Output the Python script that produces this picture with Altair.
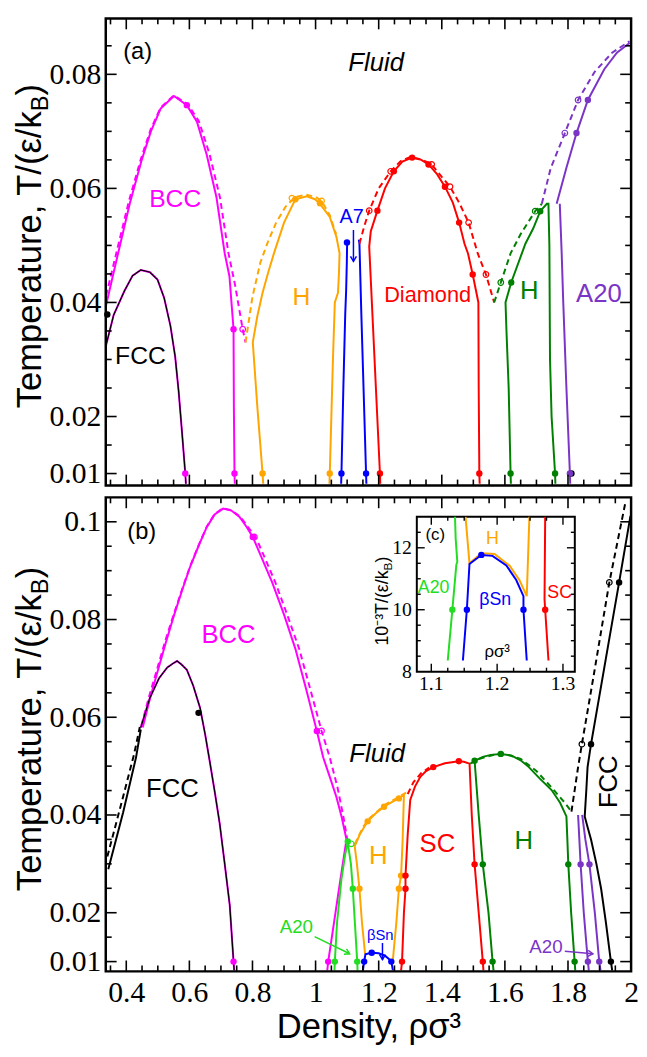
import math
import altair as alt
import pandas as pd

# ===================== values =====================
# ---------- panel (a) ----------
A_BCC_X = [0.336, 0.374, 0.411, 0.448, 0.478, 0.509, 0.551, 0.592, 0.624, 0.655, 0.686, 0.712, 0.727, 0.740, 0.741, 0.743, 0.744]
A_BCC_T = [0.0395, 0.0486, 0.0573, 0.0648, 0.0700, 0.0740, 0.0762, 0.0746, 0.0717, 0.0659, 0.0584, 0.0486, 0.0446, 0.0353, 0.0220, 0.0100, 0.0082]
A_BCC_DX = [0.336, 0.370, 0.408, 0.446, 0.477, 0.509, 0.551, 0.594, 0.630, 0.664, 0.697, 0.724, 0.745, 0.769, 0.778]
A_BCC_DT = [0.0412, 0.0490, 0.0577, 0.0651, 0.0703, 0.0742, 0.0763, 0.0748, 0.0718, 0.0660, 0.0584, 0.0486, 0.0430, 0.0353, 0.0330]
A_FCC_X = [0.336, 0.360, 0.394, 0.420, 0.446, 0.475, 0.499, 0.520, 0.540, 0.555, 0.566, 0.577, 0.587, 0.589]
A_FCC_T = [0.0325, 0.0378, 0.0420, 0.0447, 0.0457, 0.0453, 0.0440, 0.0408, 0.0359, 0.0305, 0.0244, 0.0170, 0.0100, 0.0082]
A_H_X = [1.044, 1.045, 1.055, 1.061, 1.071, 1.074, 1.076, 1.066, 1.045, 1.014, 0.998, 0.972, 0.936, 0.900, 0.868, 0.850, 0.832, 0.815, 0.801, 0.815, 0.832, 0.834]
A_H_T = [0.0082, 0.0100, 0.0300, 0.0400, 0.0417, 0.0450, 0.0486, 0.0515, 0.0550, 0.0573, 0.0581, 0.0586, 0.0581, 0.0540, 0.0486, 0.0453, 0.0417, 0.0375, 0.0330, 0.0220, 0.0100, 0.0082]
A_H_DX = [0.778, 0.800, 0.825, 0.848, 0.875, 0.905, 0.935, 0.970, 1.000, 1.019, 1.045, 1.065]
A_H_DT = [0.0330, 0.0410, 0.0470, 0.0505, 0.0540, 0.0568, 0.0585, 0.0589, 0.0585, 0.0578, 0.0553, 0.0520]
A_A7L_X = [1.081, 1.082, 1.088, 1.094, 1.097, 1.099, 1.100]
A_A7L_T = [0.0082, 0.0100, 0.0250, 0.0380, 0.0423, 0.0470, 0.0505]
A_A7R_X = [1.137, 1.139, 1.145, 1.152, 1.160, 1.161]
A_A7R_T = [0.0510, 0.0503, 0.0380, 0.0250, 0.0100, 0.0082]
A_DIA_X = [1.205, 1.204, 1.170, 1.175, 1.196, 1.220, 1.248, 1.275, 1.306, 1.335, 1.358, 1.385, 1.410, 1.435, 1.455, 1.472, 1.483, 1.498, 1.516, 1.517, 1.519, 1.520]
A_DIA_T = [0.0082, 0.0100, 0.0498, 0.0525, 0.0561, 0.0600, 0.0630, 0.0647, 0.0654, 0.0650, 0.0642, 0.0625, 0.0603, 0.0575, 0.0540, 0.0503, 0.0486, 0.0449, 0.0400, 0.0250, 0.0100, 0.0082]
A_DIA_DX = [1.139, 1.155, 1.170, 1.200, 1.238, 1.270, 1.300, 1.335, 1.368, 1.400, 1.426, 1.455, 1.485, 1.514, 1.540, 1.566]
A_DIA_DT = [0.0503, 0.0535, 0.0561, 0.0600, 0.0630, 0.0648, 0.0655, 0.0651, 0.0642, 0.0620, 0.0603, 0.0575, 0.0540, 0.0486, 0.0449, 0.0400]
A_HG_X = [1.619, 1.618, 1.612, 1.605, 1.602, 1.620, 1.665, 1.690, 1.712, 1.733, 1.738, 1.741, 1.743, 1.748, 1.759, 1.760]
A_HG_T = [0.0082, 0.0100, 0.0250, 0.0350, 0.0400, 0.0435, 0.0503, 0.0530, 0.0560, 0.0573, 0.0573, 0.0500, 0.0300, 0.0200, 0.0100, 0.0082]
A_HG_DX = [1.566, 1.587, 1.618, 1.650, 1.696, 1.717]
A_HG_DT = [0.0400, 0.0435, 0.0486, 0.0520, 0.0560, 0.0573]
A_A20_X = [1.764, 1.795, 1.827, 1.863, 1.915, 1.955, 1.995]
A_A20_T = [0.0573, 0.0636, 0.0697, 0.0755, 0.0809, 0.0838, 0.0855]
A_A20V_X = [1.774, 1.780, 1.785, 1.795, 1.806, 1.807]
A_A20V_T = [0.0573, 0.0486, 0.0400, 0.0250, 0.0100, 0.0082]
A_A20_DX = [1.717, 1.745, 1.790, 1.832, 1.884, 1.940, 1.995]
A_A20_DT = [0.0573, 0.0635, 0.0697, 0.0755, 0.0804, 0.0838, 0.0858]

A_DOT_X = [0.592, 0.740, 0.743, 0.587, 0.340, 1.811, 0.936, 1.014, 0.832, 1.045, 1.0995, 1.082, 1.160,
           1.196, 1.248, 1.306, 1.358, 1.410, 1.455, 1.498, 1.204, 1.519, 1.620, 1.712, 1.618, 1.759,
           1.827, 1.863, 1.806]
A_DOT_T = [0.0746, 0.0353, 0.0100, 0.0100, 0.0379, 0.0100, 0.0581, 0.0574, 0.0100, 0.0100, 0.0505, 0.0100, 0.0100,
           0.0561, 0.0630, 0.0654, 0.0642, 0.0603, 0.0540, 0.0449, 0.0100, 0.0100, 0.0435, 0.0560, 0.0100, 0.0100,
           0.0697, 0.0755, 0.0100]
A_DOT_P = ["bcc", "bcc", "bcc", "bcc", "k", "k", "h", "h", "h", "h", "a7", "a7", "a7",
           "dia", "dia", "dia", "dia", "dia", "dia", "dia", "dia", "dia", "hg", "hg", "hg", "hg",
           "a20", "a20", "a20"]
A_OPEN_X = [0.769, 0.925, 1.019, 1.170, 1.238, 1.368, 1.426, 1.485, 1.540, 1.587, 1.696, 1.790, 1.832]
A_OPEN_T = [0.0353, 0.0583, 0.0578, 0.0561, 0.0630, 0.0642, 0.0603, 0.0540, 0.0449, 0.0435, 0.0560, 0.0697, 0.0755]
A_OPEN_P = ["bcc", "h", "h", "dia", "dia", "dia", "dia", "dia", "dia", "hg", "hg", "a20", "a20"]

A_LAB_TEXT = ["(a)", "BCC", "FCC", "H", "A7", "Diamond", "H", "A20"]
A_LAB_X = [0.436, 0.555, 0.445, 0.955, 1.114, 1.355, 1.677, 1.898]
A_LAB_T = [0.0839, 0.0581, 0.0306, 0.0410, 0.0550, 0.0413, 0.0420, 0.0415]
A_LAB_P = ["k", "bcc", "k", "h", "a7", "dia", "hg", "a20"]
A_FLUID_X = [1.192]
A_FLUID_T = [0.0819]
A_ARR_X0 = [1.120]
A_ARR_T0 = [0.0527]
A_ARR_X1 = [1.120]
A_ARR_T1 = [0.0472]
A_ARR_P = ["a7"]

# ---------- panel (b) ----------
B_BCC_X = [0.452, 0.475, 0.499, 0.525, 0.551, 0.577, 0.603, 0.630, 0.655, 0.680, 0.707, 0.733, 0.759, 0.781, 0.801,
           0.830, 0.863, 0.900, 0.936, 0.970, 1.004, 1.024, 1.045, 1.066, 1.083, 1.098, 1.085, 1.071, 1.055, 1.040, 1.037]
B_BCC_T = [0.0579, 0.0638, 0.0693, 0.0752, 0.0808, 0.0860, 0.0909, 0.0952, 0.0989, 0.1015, 0.1027, 0.1023, 0.1010, 0.0990, 0.0969,
           0.0925, 0.0875, 0.0810, 0.0740, 0.0658, 0.0572, 0.0518, 0.0478, 0.0437, 0.0395, 0.0350, 0.0295, 0.0235, 0.0165, 0.0100, 0.0082]
B_BCC_DX = [0.448, 0.472, 0.497, 0.523, 0.550, 0.577, 0.603, 0.630, 0.655, 0.680, 0.707, 0.735, 0.762, 0.786, 0.810,
            0.840, 0.873, 0.910, 0.948, 0.983, 1.019, 1.045, 1.070, 1.090, 1.102]
B_BCC_DT = [0.0583, 0.0642, 0.0697, 0.0755, 0.0810, 0.0862, 0.0910, 0.0953, 0.0990, 0.1016, 0.1028, 0.1023, 0.1010, 0.0989, 0.0969,
            0.0925, 0.0875, 0.0810, 0.0740, 0.0658, 0.0572, 0.0518, 0.0455, 0.0390, 0.0343]
B_FCC_X = [0.446, 0.475, 0.504, 0.530, 0.548, 0.561, 0.575, 0.592, 0.612, 0.634, 0.650, 0.665, 0.681, 0.696, 0.712, 0.728, 0.740, 0.742]
B_FCC_T = [0.0579, 0.0640, 0.0680, 0.0702, 0.0710, 0.0715, 0.0708, 0.0697, 0.0665, 0.0619, 0.0565, 0.0508, 0.0445, 0.0383, 0.0300, 0.0215, 0.0100, 0.0082]
B_FL_X = [0.343, 0.390, 0.431, 0.446]
B_FL_T = [0.0289, 0.0405, 0.0518, 0.0575]
B_FL_DX = [0.340, 0.385, 0.425, 0.443]
B_FL_DT = [0.0315, 0.0425, 0.0525, 0.0580]
B_A20G_X = [1.060, 1.061, 1.068, 1.082, 1.094, 1.102, 1.112, 1.118, 1.125, 1.132, 1.133]
B_A20G_T = [0.0082, 0.0100, 0.0180, 0.0269, 0.0320, 0.0343, 0.0300, 0.0249, 0.0175, 0.0100, 0.0082]
B_H_X = [1.157, 1.147, 1.139, 1.131, 1.124, 1.140, 1.165, 1.190, 1.217, 1.240, 1.264, 1.280, 1.276, 1.271, 1.264, 1.256, 1.245]
B_H_T = [0.0115, 0.0180, 0.0249, 0.0300, 0.0336, 0.0360, 0.0387, 0.0403, 0.0417, 0.0426, 0.0434, 0.0441, 0.0350, 0.0276, 0.0249, 0.0180, 0.0104]
B_H_DX = [1.124, 1.150, 1.170, 1.220, 1.267, 1.290]
B_H_DT = [0.0340, 0.0375, 0.0393, 0.0421, 0.0438, 0.0447]
B_BSN_X = [1.150, 1.154, 1.158, 1.170, 1.180, 1.200, 1.220, 1.235, 1.240, 1.245]
B_BSN_T = [0.0082, 0.0100, 0.0115, 0.0117, 0.0118, 0.0117, 0.0112, 0.0104, 0.0100, 0.0082]
B_SC_X = [1.271, 1.274, 1.280, 1.285, 1.285, 1.292, 1.300, 1.315, 1.332, 1.350, 1.373, 1.410, 1.454, 1.470, 1.488, 1.495, 1.504, 1.517, 1.530, 1.532]
B_SC_T = [0.0082, 0.0100, 0.0200, 0.0249, 0.0276, 0.0360, 0.0431, 0.0458, 0.0478, 0.0490, 0.0498, 0.0506, 0.0510, 0.0509, 0.0505, 0.0400, 0.0299, 0.0200, 0.0100, 0.0082]
B_SC_DX = [1.292, 1.310, 1.335, 1.360]
B_SC_DT = [0.0443, 0.0467, 0.0486, 0.0497]
B_HG_X = [1.564, 1.561, 1.548, 1.530, 1.517, 1.504, 1.530, 1.555, 1.587, 1.620, 1.650, 1.676, 1.710, 1.748, 1.775, 1.795, 1.798, 1.801, 1.810, 1.821, 1.823]
B_HG_T = [0.0082, 0.0100, 0.0200, 0.0299, 0.0400, 0.0511, 0.0519, 0.0523, 0.0525, 0.0522, 0.0512, 0.0498, 0.0475, 0.0451, 0.0425, 0.0397, 0.0350, 0.0299, 0.0200, 0.0100, 0.0082]
B_HG_DX = [1.490, 1.520, 1.587, 1.650, 1.700, 1.750, 1.790, 1.811]
B_HG_DT = [0.0505, 0.0515, 0.0527, 0.0515, 0.0490, 0.0455, 0.0425, 0.0407]
B_A20P1_X = [1.832, 1.836, 1.840, 1.850, 1.863, 1.866]
B_A20P1_T = [0.0400, 0.0350, 0.0299, 0.0200, 0.0100, 0.0082]
B_A20P2_X = [1.845, 1.855, 1.868, 1.885, 1.899, 1.903]
B_A20P2_T = [0.0400, 0.0350, 0.0299, 0.0200, 0.0100, 0.0082]
B_FCCR_X = [1.940, 1.936, 1.920, 1.905, 1.890, 1.873, 1.860, 1.853, 1.858, 1.862, 1.873, 1.920, 1.962, 1.998]
B_FCCR_T = [0.0082, 0.0100, 0.0181, 0.0249, 0.0300, 0.0350, 0.0380, 0.0397, 0.0450, 0.0498, 0.0545, 0.0720, 0.0876, 0.1012]
B_FCCR_DX = [1.811, 1.832, 1.844, 1.880, 1.931, 1.983]
B_FCCR_DT = [0.0407, 0.0498, 0.0545, 0.0680, 0.0876, 0.1043]

B_DOT_X = [0.801, 1.004, 1.040, 0.740, 0.629, 1.873, 1.962, 1.936, 1.102, 1.118, 1.061, 1.132,
           1.139, 1.165, 1.217, 1.264, 1.271, 1.264, 1.154, 1.178, 1.240,
           1.274, 1.285, 1.285, 1.373, 1.454, 1.504, 1.530,
           1.504, 1.530, 1.561, 1.587, 1.801, 1.821, 1.840, 1.863, 1.868, 1.899]
B_DOT_T = [0.0969, 0.0572, 0.0100, 0.0100, 0.0609, 0.0545, 0.0876, 0.0100, 0.0346, 0.0249, 0.0100, 0.0100,
           0.0249, 0.0387, 0.0417, 0.0434, 0.0276, 0.0249, 0.0100, 0.0118, 0.0100,
           0.0100, 0.0249, 0.0276, 0.0498, 0.0510, 0.0299, 0.0100,
           0.0511, 0.0299, 0.0100, 0.0525, 0.0299, 0.0100, 0.0299, 0.0100, 0.0299, 0.0100]
B_DOT_P = ["bcc", "bcc", "bcc", "bcc", "k", "k", "k", "k", "a20g", "a20g", "a20g", "a20g",
           "h", "h", "h", "h", "h", "h", "bsn", "bsn", "bsn",
           "sc", "sc", "sc", "sc", "sc", "sc", "sc",
           "hg", "hg", "hg", "hg", "hg", "hg", "a20", "a20", "a20", "a20"]
B_OPEN_X = [0.806, 1.019, 1.844, 1.931, 1.113]
B_OPEN_T = [0.0969, 0.0572, 0.0545, 0.0876, 0.0341]
B_OPEN_P = ["bcc", "bcc", "k", "k", "a20g"]

B_LAB_TEXT = ["(b)", "BCC", "FCC", "H", "SC", "H", "FCC", "A20", "βSn", "A20"]
B_LAB_X = [0.449, 0.724, 0.546, 1.199, 1.386, 1.660, 1.930, 0.939, 1.205, 1.730]
B_LAB_T = [0.0979, 0.0769, 0.0454, 0.0316, 0.0340, 0.0346, 0.0468, 0.0171, 0.0155, 0.0130]
B_LAB_P = ["k", "bcc", "k", "h", "sc", "hg", "k", "a20g", "bsn", "a20"]
B_FLUID_X = [1.195]
B_FLUID_T = [0.0524]
B_ARR_X0 = [0.997, 1.790, 1.212]
B_ARR_T0 = [0.0151, 0.0121, 0.0138]
B_ARR_X1 = [1.108, 1.879, 1.212]
B_ARR_T1 = [0.0116, 0.0116, 0.0104]
B_ARR_P = ["a20g", "a20", "bsn"]

# ---------- inset (c): T in units of 1e-3 ----------
I_A20_X = [1.125, 1.132, 1.138, 1.1395, 1.137, 1.136]
I_A20_T = [8.36, 10.0, 11.45, 11.55, 12.3, 13.0]
I_BSN_X = [1.148, 1.154, 1.158, 1.176, 1.193, 1.214, 1.229, 1.240, 1.240, 1.245]
I_BSN_T = [8.36, 10.0, 11.48, 11.77, 11.74, 11.43, 10.96, 10.44, 10.0, 8.36]
I_H_X = [1.152, 1.158, 1.176, 1.196, 1.219, 1.234, 1.245, 1.249]
I_H_T = [13.0, 11.50, 11.82, 11.80, 11.42, 10.95, 10.44, 13.0]
I_SC_X = [1.273, 1.272, 1.273, 1.278]
I_SC_T = [13.0, 10.34, 10.0, 8.36]
I_DOT_X = [1.132, 1.154, 1.176, 1.240, 1.273]
I_DOT_T = [10.0, 10.0, 11.77, 10.0, 10.0]
I_DOT_P = ["a20g", "bsn", "bsn", "bsn", "sc"]
I_LAB_TEXT = ["(c)", "H", "A20", "βSn", "SC", "ρσ³"]
I_LAB_X = [1.106, 1.193, 1.1035, 1.197, 1.295, 1.200]
I_LAB_T = [12.42, 12.27, 10.70, 10.31, 10.55, 8.64]
I_LAB_P = ["k", "h", "a20g", "bsn", "sc", "k"]

# ---------- ticks ----------
A_Y_MAJOR = [0.01, 0.02, 0.04, 0.06, 0.08]
A_Y_MINOR = [0.015, 0.025, 0.03, 0.035, 0.045, 0.05, 0.055, 0.065, 0.07, 0.075, 0.085]
B_Y_MAJOR = [0.01, 0.02, 0.04, 0.06, 0.08, 0.1]
B_Y_MINOR = [0.015, 0.025, 0.03, 0.035, 0.045, 0.05, 0.055, 0.065, 0.07, 0.075, 0.085, 0.09, 0.095]
X_MAJOR = [0.4, 0.6, 0.8, 1.0, 1.2, 1.4, 1.6, 1.8, 2.0]
X_MINOR = [0.35, 0.45, 0.5, 0.55, 0.65, 0.7, 0.75, 0.85, 0.9, 0.95, 1.05, 1.1, 1.15, 1.25, 1.3, 1.35,
           1.45, 1.5, 1.55, 1.65, 1.7, 1.75, 1.85, 1.9, 1.95]
I_X_MAJOR = [1.1, 1.2, 1.3]
I_X_MINOR = [1.125, 1.15, 1.175, 1.225, 1.25, 1.275]
I_Y_MAJOR = [10, 12]
I_Y_MINOR = [8.5, 9, 9.5, 10.5, 11, 11.5, 12.5]
I_Y_LABELS = [8, 10, 12]

# ===================== style & layout =====================
COLORS = {"bcc": "#ff00ff", "k": "#000000", "h": "#ffa500", "a7": "#0000ff", "bsn": "#0000ff",
          "dia": "#ff0000", "sc": "#ff0000", "hg": "#008000", "a20": "#7b35c6", "a20g": "#22dd22"}
SANS = "Liberation Sans"
SERIF = "Liberation Serif"
W, HA, HB, GAP = 532, 473, 480, 12
BTOP = HA + GAP
HTOT = HA + GAP + HB
X_DOM = [0.335, 2.0]
YA_DOM = [0.0079, 0.0898]
YB_DOM = [0.008, 0.105]
I_XDOM = [1.078, 1.318]
I_YDOM = [8.0, 13.0]
I_XRANGE = [315.0, 475.0]
I_YRANGE = [BTOP + 176.5, BTOP + 19.7]
VHEAD = "M -1 -0.6 L 0 0 L -1 0.6"

A_LAB_SIZE = [24, 25, 25, 25, 20, 22, 26, 26]
B_LAB_SIZE = [24, 26, 26, 26, 26, 26, 26, 19, 15, 19]
B_LAB_ANGLE = [0, 0, 0, 0, 0, 0, 270, 0, 0, 0]
I_LAB_SIZE = [17, 18, 18, 18, 18, 17]

A_CURVES = [
    ("bcc", "solid", A_BCC_X, A_BCC_T), ("bcc", "dash", A_BCC_DX, A_BCC_DT),
    ("bcc", "solid", A_FCC_X, A_FCC_T), ("k", "thin", A_FCC_X, A_FCC_T),
    ("h", "solid", A_H_X, A_H_T), ("h", "dash", A_H_DX, A_H_DT),
    ("a7", "solid", A_A7L_X, A_A7L_T), ("a7", "solid", A_A7R_X, A_A7R_T),
    ("dia", "solid", A_DIA_X, A_DIA_T), ("dia", "dash", A_DIA_DX, A_DIA_DT),
    ("hg", "solid", A_HG_X, A_HG_T), ("hg", "dash", A_HG_DX, A_HG_DT),
    ("a20", "solid", A_A20_X, A_A20_T), ("a20", "solid", A_A20V_X, A_A20V_T), ("a20", "dash", A_A20_DX, A_A20_DT),
]
B_CURVES = [
    ("bcc", "solid", B_BCC_X, B_BCC_T), ("bcc", "dash", B_BCC_DX, B_BCC_DT),
    ("bcc", "solid", B_FCC_X, B_FCC_T), ("k", "thin", B_FCC_X, B_FCC_T),
    ("k", "solid", B_FL_X, B_FL_T), ("k", "dash", B_FL_DX, B_FL_DT),
    ("a20g", "solid", B_A20G_X, B_A20G_T),
    ("h", "solid", B_H_X, B_H_T), ("h", "dash", B_H_DX, B_H_DT),
    ("bsn", "solid", B_BSN_X, B_BSN_T),
    ("sc", "solid", B_SC_X, B_SC_T), ("sc", "dash", B_SC_DX, B_SC_DT),
    ("hg", "solid", B_HG_X, B_HG_T), ("hg", "dash", B_HG_DX, B_HG_DT),
    ("a20", "solid", B_A20P1_X, B_A20P1_T), ("a20", "solid", B_A20P2_X, B_A20P2_T),
    ("k", "solid", B_FCCR_X, B_FCCR_T), ("k", "dash", B_FCCR_DX, B_FCCR_DT),
]
I_CURVES = [
    ("a20g", "solid", I_A20_X, I_A20_T), ("h", "solid", I_H_X, I_H_T),
    ("bsn", "solid", I_BSN_X, I_BSN_T), ("sc", "solid", I_SC_X, I_SC_T),
]


def curves_df(specs):
    rows = []
    for cid, (ph, style, xs, ts) in enumerate(specs):
        for i, (x, t) in enumerate(zip(xs, ts)):
            rows.append(dict(cid=cid, i=i, x=x, T=t, color=COLORS[ph], style=style))
    return pd.DataFrame(rows)


def pts_df(xs, ts, ps):
    return pd.DataFrame({"x": xs, "T": ts, "color": [COLORS[p] for p in ps]})


def lab_df(text, xs, ts, ps, sizes, angles=None):
    return pd.DataFrame({"text": text, "x": xs, "T": ts, "color": [COLORS[p] for p in ps],
                         "size": sizes, "angle": angles if angles else [0] * len(text)})


ONE = pd.DataFrame({"k": [0]})


def line_layers(df, xf, yf):
    out = []
    cfg = {"solid": dict(strokeWidth=2), "dash": dict(strokeWidth=2, strokeDash=[6, 4]),
           "thin": dict(strokeWidth=1.2)}
    for st in ["solid", "dash", "thin"]:
        sub = df[df["style"] == st]
        if len(sub) == 0:
            continue
        out.append(alt.Chart(sub).mark_line(**cfg[st]).encode(
            x=xf("x"), y=yf("T"), detail="cid:N", order="i:Q", color=alt.Color("color:N", scale=None)))
    return out


def dot_layers(dots, opens, xf, yf):
    out = []
    if opens is not None:
        out.append(alt.Chart(opens).mark_point(filled=False, size=32, strokeWidth=1.2, opacity=1).encode(
            x=xf("x"), y=yf("T"), color=alt.Color("color:N", scale=None)))
    out.append(alt.Chart(dots).mark_circle(size=42, opacity=1).encode(
        x=xf("x"), y=yf("T"), color=alt.Color("color:N", scale=None)))
    return out


def label_layer(df, xf, yf, style="normal"):
    return alt.Chart(df).mark_text(font=SANS, fontStyle=style, align="center", baseline="middle").encode(
        x=xf("x"), y=yf("T"), text="text:N", color=alt.Color("color:N", scale=None),
        size=alt.Size("size:Q", scale=None), angle=alt.Angle("angle:Q", scale=None))


def arrow_layers(x0, t0, x1, t1, ps, xf, yf, H, ydom):
    px_x = W / (X_DOM[1] - X_DOM[0])
    px_y = H / (ydom[1] - ydom[0])
    ang = [math.degrees(math.atan2(-(b1 - b0) * px_y, (a1 - a0) * px_x)) for a0, b0, a1, b1 in zip(x0, t0, x1, t1)]
    df = pd.DataFrame({"x": x0, "T": t0, "x2": x1, "T2": t1, "color": [COLORS[p] for p in ps], "ang": ang})
    shaft = alt.Chart(df).mark_rule(strokeWidth=1.5).encode(
        x=xf("x"), y=yf("T"), x2=alt.X2("x2:Q"), y2=alt.Y2("T2:Q"), color=alt.Color("color:N", scale=None))
    head = alt.Chart(df).mark_point(shape=VHEAD, filled=False, size=100, strokeWidth=1.5, opacity=1).encode(
        x=xf("x2"), y=yf("T2"),
        color=alt.Color("color:N", scale=None), angle=alt.Angle("ang:Q", scale=None))
    return [shaft, head]


def tick_layers(top, H, ymaj, ymin, xf, yf):
    out = []
    for vals, L in [(ymaj, 11), (ymin, 6)]:
        d = pd.DataFrame({"T": vals})
        out.append(alt.Chart(d).mark_rule(color="black", strokeWidth=1.6).encode(
            y=yf("T"), x=alt.value(0), x2=alt.value(L)))
        out.append(alt.Chart(d).mark_rule(color="black", strokeWidth=1.6).encode(
            y=yf("T"), x=alt.value(W - L), x2=alt.value(W)))
    for vals, L in [(X_MAJOR[:-1], 11), (X_MINOR, 6)]:
        d = pd.DataFrame({"x": vals})
        out.append(alt.Chart(d).mark_rule(color="black", strokeWidth=1.6).encode(
            x=xf("x"), y=alt.value(top + H), y2=alt.value(top + H - L)))
        out.append(alt.Chart(d).mark_rule(color="black", strokeWidth=1.6).encode(
            x=xf("x"), y=alt.value(top), y2=alt.value(top + L)))
    return out


def frame_layer(top, H):
    return alt.Chart(ONE).mark_rect(fillOpacity=0, stroke="black", strokeWidth=2.5).encode(
        x=alt.value(0), x2=alt.value(W), y=alt.value(top), y2=alt.value(top + H))


def rot_title(x_px, y_end, fs, sub_fs, sub_w, main, sub="B", tail=")"):
    com = dict(angle=270, baseline="alphabetic", font=SANS, color="black")
    t1 = alt.Chart(ONE).mark_text(align="right", fontSize=fs, **com).encode(
        x=alt.value(x_px), y=alt.value(y_end), text=alt.value(main))
    t2 = alt.Chart(ONE).mark_text(align="left", fontSize=sub_fs, dy=round(fs * 0.22), **com).encode(
        x=alt.value(x_px), y=alt.value(y_end), text=alt.value(sub))
    t3 = alt.Chart(ONE).mark_text(align="left", fontSize=fs, **com).encode(
        x=alt.value(x_px), y=alt.value(y_end - sub_w), text=alt.value(tail))
    return [t1, t2, t3]


def yaxis(vals):
    return alt.Axis(values=vals, format="~g", orient="left", ticks=False, domain=False, grid=False,
                    labelFont=SERIF, labelFontSize=30, labelColor="black", labelPadding=5,
                    labelOverlap=False)


XAXIS_B = alt.Axis(values=X_MAJOR, format="~g", orient="bottom", ticks=False, domain=False, grid=False,
                   labelFont=SERIF, labelFontSize=30, labelColor="black", labelPadding=7,
                   labelFlush=False, labelOverlap=False,
                   titleFont=SANS, titleFontSize=35, titleFontWeight="normal", titleColor="black",
                   titlePadding=2)
X_TITLE = "Density, ρσ³"


def main_panel(curves, dots, opens, labs, fluid, arrows, ydom, top, H, ymaj, ymin, xaxis, xtitle, title_end):
    def xf(field):
        return alt.X(f"{field}:Q", scale=alt.Scale(domain=X_DOM, nice=False, zero=False), axis=xaxis, title=xtitle)

    def yf(field):
        return alt.Y(f"{field}:Q", scale=alt.Scale(domain=ydom, range=[top + H, top], nice=False, zero=False),
                     axis=yaxis(ymaj), title=None)

    layers = []
    layers += line_layers(curves_df(curves), xf, yf)
    layers += dot_layers(dots, opens, xf, yf)
    layers.append(label_layer(labs, xf, yf))
    layers.append(label_layer(fluid, xf, yf, style="italic"))
    layers += arrow_layers(*arrows, xf, yf, H, ydom)
    layers += tick_layers(top, H, ymaj, ymin, xf, yf)
    layers.append(frame_layer(top, H))
    layers += rot_title(-66, top + title_end, 35, 24, 16, "Temperature, T/(ε/k")
    return alt.layer(*layers)


# ---------- panel (a) ----------
top_group = main_panel(
    A_CURVES, pts_df(A_DOT_X, A_DOT_T, A_DOT_P), pts_df(A_OPEN_X, A_OPEN_T, A_OPEN_P),
    lab_df(A_LAB_TEXT, A_LAB_X, A_LAB_T, A_LAB_P, A_LAB_SIZE),
    lab_df(["Fluid"], A_FLUID_X, A_FLUID_T, ["k"], [26]),
    (A_ARR_X0, A_ARR_T0, A_ARR_X1, A_ARR_T1, A_ARR_P),
    YA_DOM, 0, HA, A_Y_MAJOR, A_Y_MINOR, None, None, 94)

# ---------- panel (b) ----------
bottom_group = main_panel(
    B_CURVES, pts_df(B_DOT_X, B_DOT_T, B_DOT_P), pts_df(B_OPEN_X, B_OPEN_T, B_OPEN_P),
    lab_df(B_LAB_TEXT, B_LAB_X, B_LAB_T, B_LAB_P, B_LAB_SIZE, B_LAB_ANGLE),
    lab_df(["Fluid"], B_FLUID_X, B_FLUID_T, ["k"], [26]),
    (B_ARR_X0, B_ARR_T0, B_ARR_X1, B_ARR_T1, B_ARR_P),
    YB_DOM, BTOP, HB, B_Y_MAJOR, B_Y_MINOR, XAXIS_B, X_TITLE, 98)


# ---------- inset (c) ----------
def ixf(field):
    return alt.X(f"{field}:Q", scale=alt.Scale(domain=I_XDOM, range=I_XRANGE, nice=False, zero=False),
                 axis=None, title=None)


def iyf(field):
    return alt.Y(f"{field}:Q", scale=alt.Scale(domain=I_YDOM, range=I_YRANGE, nice=False, zero=False),
                 axis=None, title=None)


i_layers = []
frame = pd.DataFrame({"x": [I_XDOM[0]], "x2": [I_XDOM[1]], "T": [I_YDOM[0]], "T2": [I_YDOM[1]]})
i_layers.append(alt.Chart(frame).mark_rect(fill="white", stroke="black", strokeWidth=2).encode(
    x=ixf("x"), x2=alt.X2("x2:Q"), y=iyf("T"), y2=alt.Y2("T2:Q")))
i_layers += line_layers(curves_df(I_CURVES), ixf, iyf)
i_layers += dot_layers(pts_df(I_DOT_X, I_DOT_T, I_DOT_P), None, ixf, iyf)
i_layers.append(label_layer(lab_df(I_LAB_TEXT, I_LAB_X, I_LAB_T, I_LAB_P, I_LAB_SIZE), ixf, iyf))

ux = (I_XDOM[1] - I_XDOM[0]) / (I_XRANGE[1] - I_XRANGE[0])   # data units per pixel
uy = (I_YDOM[1] - I_YDOM[0]) / (I_YRANGE[0] - I_YRANGE[1])
trows = []
for vals, L in [(I_X_MAJOR, 8), (I_X_MINOR, 4)]:
    for v in vals:
        trows.append(dict(x=v, x2=v, T=I_YDOM[0], T2=I_YDOM[0] + L * uy))
        trows.append(dict(x=v, x2=v, T=I_YDOM[1], T2=I_YDOM[1] - L * uy))
for vals, L in [(I_Y_MAJOR, 8), (I_Y_MINOR, 4)]:
    for v in vals:
        trows.append(dict(x=I_XDOM[0], x2=I_XDOM[0] + L * ux, T=v, T2=v))
        trows.append(dict(x=I_XDOM[1], x2=I_XDOM[1] - L * ux, T=v, T2=v))
i_layers.append(alt.Chart(pd.DataFrame(trows)).mark_rule(color="black", strokeWidth=1.4).encode(
    x=ixf("x"), x2=alt.X2("x2:Q"), y=iyf("T"), y2=alt.Y2("T2:Q")))
ixl = pd.DataFrame({"x": I_X_MAJOR, "T": [I_YDOM[0]] * len(I_X_MAJOR), "text": ["1.1", "1.2", "1.3"]})
i_layers.append(alt.Chart(ixl).mark_text(font=SERIF, fontSize=20, baseline="top", dy=3, color="black").encode(
    x=ixf("x"), y=iyf("T"), text="text:N"))
iyl = pd.DataFrame({"x": [I_XDOM[0]] * len(I_Y_LABELS), "T": I_Y_LABELS, "text": [str(v) for v in I_Y_LABELS]})
i_layers.append(alt.Chart(iyl).mark_text(font=SERIF, fontSize=20, align="right", baseline="middle", dx=-5,
                                         color="black").encode(x=ixf("x"), y=iyf("T"), text="text:N"))
i_layers += rot_title(286, BTOP + 74, 18, 12, 8, "10⁻³T/(ε/k")
inset_group = alt.layer(*i_layers)

chart = alt.layer(top_group, bottom_group, inset_group).resolve_scale(
    x="independent", y="independent"
).properties(
    width=W, height=HTOT,
    autosize=alt.AutoSizeParams(type="none"),
    padding={"left": 99, "top": 4, "right": 8, "bottom": 68},
    background="white",
).configure_view(stroke="transparent")

chart.save("out.html", embed_options={"renderer": "svg", "actions": False})
